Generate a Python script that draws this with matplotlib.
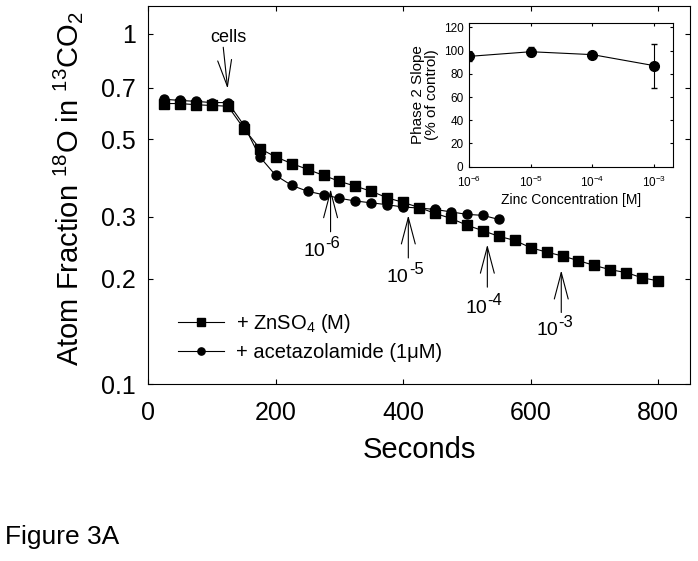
import matplotlib
matplotlib.use('Agg')
import matplotlib.pyplot as plt
from matplotlib.ticker import FixedLocator, NullLocator, FixedFormatter

plt.rcParams['font.family'] = ['Liberation Sans', 'DejaVu Sans']
plt.rcParams['mathtext.fontset'] = 'custom'
plt.rcParams['mathtext.rm'] = 'Liberation Sans'
plt.rcParams['mathtext.it'] = 'Liberation Sans:italic'
plt.rcParams['mathtext.bf'] = 'Liberation Sans:bold'
plt.rcParams['mathtext.default'] = 'regular'

# ---- data ----
time_zn = [25, 50, 75, 100, 125, 150, 175, 200, 225, 250, 275, 300, 325, 350, 375, 400,
           425, 450, 475, 500, 525, 550, 575, 600, 625, 650, 675, 700, 725, 750, 775, 800]
frac_zn = [0.632, 0.632, 0.627, 0.624, 0.621, 0.536, 0.470, 0.445, 0.426, 0.410, 0.394,
           0.379, 0.367, 0.355, 0.340, 0.330, 0.319, 0.307, 0.297, 0.284, 0.274, 0.264,
           0.257, 0.245, 0.238, 0.232, 0.225, 0.218, 0.212, 0.208, 0.201, 0.197]
time_az = [25, 50, 75, 100, 125, 150, 175, 200, 225, 250, 275, 300, 325, 350, 375, 400,
           425, 450, 475, 500, 525, 550]
frac_az = [0.650, 0.645, 0.641, 0.636, 0.636, 0.548, 0.445, 0.394, 0.369, 0.355, 0.347,
           0.339, 0.333, 0.329, 0.325, 0.320, 0.318, 0.315, 0.310, 0.305, 0.303, 0.295]

x_ticks = [0, 200, 400, 600, 800]
y_ticks = [0.1, 0.2, 0.3, 0.5, 0.7, 1]
y_tick_labels = ['0.1', '0.2', '0.3', '0.5', '0.7', '1']

zinc_conc = [1e-6, 1e-5, 1e-4, 1e-3]
zinc_slope = [95, 99, 96.5, 87]
zinc_err = [4, 4, 2, 19]
inset_xtick_labels = ['$10^{-6}$', '$10^{-5}$', '$10^{-4}$', '$10^{-3}$']
inset_yticks = [0, 20, 40, 60, 80, 100, 120]

# arrows: (exponent, tail_x, tail_y, tip_x, tip_y, text_x, text_y)
arrow_notes = [
    ('-6', 286, 0.272, 286, 0.360, 243, 0.232),
    ('-5', 408, 0.229, 408, 0.303, 374, 0.1955),
    ('-4', 532, 0.189, 532, 0.250, 497, 0.159),
    ('-3', 648, 0.160, 648, 0.211, 609, 0.138),
]

W, H = 698, 561
fig = plt.figure(figsize=(W / 100, H / 100), dpi=100)

def fr(x0, y0, x1, y1):
    return [x0 / W, 1 - y1 / H, (x1 - x0) / W, (y1 - y0) / H]

ax = fig.add_axes(fr(148.3, 6, 690, 384))
ax.set_yscale('log')
ax.set_xlim(0, 850)
ax.set_ylim(0.1, 1.2)

ax.plot(time_az, frac_az, '-o', color='k', lw=0.8, ms=6.5,
        label='+ acetazolamide (1\u03bcM)', zorder=3)
ax.plot(time_zn, frac_zn, '-s', color='k', lw=0.8, ms=7.8,
        label='+ ZnSO$_4$ (M)', zorder=4)

ax.xaxis.set_major_locator(FixedLocator(x_ticks))
ax.yaxis.set_major_locator(FixedLocator(y_ticks))
ax.yaxis.set_major_formatter(FixedFormatter(y_tick_labels))
ax.yaxis.set_minor_locator(NullLocator())
ax.tick_params(which='both', direction='in', top=True, right=True, length=3.5,
               width=0.8, labelsize=18)
ax.tick_params(axis='x', pad=12)
ax.tick_params(axis='y', pad=9)
for s in ax.spines.values():
    s.set_linewidth(0.8)

ax.set_xlabel('Seconds', fontsize=21, labelpad=8)
fig.text(68 / W, 1 - 189 / H, 'Atom Fraction $^{18}$O in $^{13}$CO$_2$',
         rotation=90, ha='center', va='center', fontsize=21)

h, l = ax.get_legend_handles_labels()
ax.legend(h[::-1], l[::-1], loc='upper left', bbox_to_anchor=(0.054, 0.19),
          frameon=False, fontsize=14.5, borderpad=0, borderaxespad=0,
          handlelength=2.3, handletextpad=0.6, labelspacing=0.4, markerscale=0.8)

arrow_style = '->,head_length=1.9,head_width=0.5'
for ex, tx, ty, px, py, lx, ly in arrow_notes:
    ax.annotate('', xy=(px, py), xytext=(tx, ty),
                arrowprops=dict(arrowstyle=arrow_style, lw=0.8, color='k',
                                mutation_scale=10, shrinkA=0, shrinkB=0))
    ax.text(lx, ly, '10', fontsize=14, ha='left', va='baseline')
    ax.annotate(ex, xy=(lx, ly), xycoords='data', xytext=(16, 6),
                textcoords='offset points', fontsize=12, ha='left', va='baseline')

ax.annotate('', xy=(124.5, 0.697), xytext=(117.6, 0.915),
            arrowprops=dict(arrowstyle=arrow_style, lw=0.8, color='k',
                            mutation_scale=10, shrinkA=0, shrinkB=0))
ax.text(125.5, 0.946, 'cells', fontsize=13, ha='center', va='baseline')

# ---- inset ----
axi = fig.add_axes(fr(469, 22.7, 673.3, 166.7))
axi.set_xscale('log')
axi.set_xlim(1e-6, 2.04e-3)
axi.set_ylim(0, 124)
axi.errorbar(zinc_conc, zinc_slope, yerr=zinc_err, fmt='-o', color='k', lw=0.8,
             ms=7, capsize=2.5, elinewidth=0.8)
axi.xaxis.set_major_locator(FixedLocator(zinc_conc))
axi.xaxis.set_major_formatter(FixedFormatter(inset_xtick_labels))
axi.xaxis.set_minor_locator(NullLocator())
axi.yaxis.set_major_locator(FixedLocator(inset_yticks))
axi.tick_params(which='both', direction='in', top=True, right=True, length=2.5,
                width=0.8, labelsize=8.5)
axi.tick_params(axis='x', pad=6)
axi.tick_params(axis='y', pad=4)
for s in axi.spines.values():
    s.set_linewidth(0.8)
axi.set_xlabel('Zinc Concentration [M]', fontsize=10, labelpad=2)
axi.set_ylabel('Phase 2 Slope\n(% of control)', fontsize=11, linespacing=1.05,
               labelpad=3)

fig.text(5 / W, 1 - 544.3 / H, 'Figure 3A', fontsize=19, ha='left', va='baseline')

fig.savefig('out.png', dpi=100)
